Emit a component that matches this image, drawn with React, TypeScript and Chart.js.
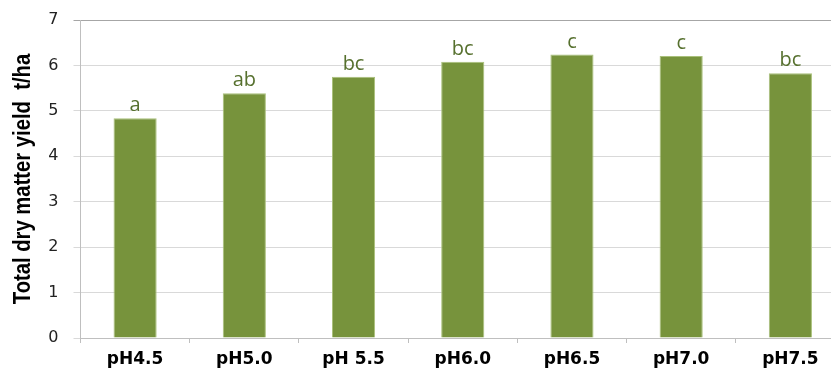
import React, { useEffect, useRef } from "react";
import { Chart, registerables } from "chart.js";

Chart.register(...registerables);

const categories = ["pH4.5", "pH5.0", "pH 5.5", "pH6.0", "pH6.5", "pH7.0", "pH7.5"];
const yieldValues = [4.84, 5.39, 5.75, 6.08, 6.24, 6.21, 5.83];
const letters = ["a", "ab", "bc", "bc", "c", "c", "bc"];
const yTicks = [0, 1, 2, 3, 4, 5, 6, 7];
const yTitle = "Total dry matter yield  t/ha";

const letterPlugin = {
  id: "letterLabels",
  afterDatasetsDraw(chart: any) {
    const ctx = chart.ctx;
    const meta = chart.getDatasetMeta(0);
    ctx.save();
    ctx.fillStyle = "#56702E";
    ctx.font = "20px 'Open Sans', 'DejaVu Sans', sans-serif";
    ctx.textAlign = "center";
    ctx.textBaseline = "alphabetic";
    meta.data.forEach((bar: any, i: number) => {
      ctx.fillText(letters[i], bar.x, bar.y - 7);
    });
    ctx.restore();
  },
};

const titlePlugin = {
  id: "condensedTitle",
  afterDraw(chart: any) {
    const ctx = chart.ctx;
    const area = chart.chartArea;
    ctx.save();
    ctx.translate(24, (area.top + area.bottom) / 2);
    ctx.rotate(-Math.PI / 2);
    ctx.scale(0.88, 1);
    ctx.fillStyle = "#000";
    ctx.font = "bold 23px 'Liberation Sans', Arial, sans-serif";
    ctx.textAlign = "center";
    ctx.textBaseline = "middle";
    ctx.fillText(yTitle, 0, 0);
    ctx.restore();
  },
};

export default function App() {
  const ref = useRef<HTMLCanvasElement | null>(null);
  useEffect(() => {
    if (!ref.current) return;
    const chart = new Chart(ref.current, {
      type: "bar",
      data: {
        labels: categories,
        datasets: [
          {
            data: yieldValues,
            backgroundColor: "#77933C",
            borderColor: "#A9C07A",
            borderWidth: 1,
            categoryPercentage: 1,
            barPercentage: 0.395,
          },
        ],
      },
      options: {
        responsive: false,
        animation: false,
        events: [],
        layout: { padding: { left: 0, right: 0, top: 20, bottom: 0 } },
        plugins: { legend: { display: false }, tooltip: { enabled: false } },
        scales: {
          x: {
            afterFit: (s: any) => {
              s.height = 31;
            },
            grid: {
              drawOnChartArea: false,
              drawTicks: true,
              tickLength: 5,
              color: "#BFBFBF",
            },
            border: { color: "#BFBFBF" },
            ticks: {
              color: "#000",
              padding: 6,
              font: { family: "'DejaVu Sans', Verdana, sans-serif", size: 17, weight: "bold" },
            },
          },
          y: {
            min: 0,
            max: 7,
            afterFit: (s: any) => {
              s.width = 80.5;
              s.paddingTop = 0;
              s.paddingBottom = 0;
            },
            afterBuildTicks: (s: any) => {
              s.ticks = yTicks.map((v) => ({ value: v }));
            },
            grid: {
              color: (c: any) => (c.tick && c.tick.value === 7 ? "#A6A6A6" : "#D9D9D9"),
              tickLength: 7,
              drawTicks: true,
            },
            border: { color: "#BFBFBF" },
            ticks: {
              color: "#222",
              padding: 15,
              font: { family: "'DejaVu Sans', Verdana, sans-serif", size: 16 },
            },
          },
        },
      },
      plugins: [letterPlugin, titlePlugin],
    });
    return () => chart.destroy();
  }, []);
  return (
    <div
      style={{
        position: "fixed",
        left: 0,
        top: 0,
        width: 831,
        height: 369,
        overflow: "hidden",
        background: "#fff",
      }}
    >
      <canvas ref={ref} width={845} height={369} style={{ display: "block" }} />
    </div>
  );
}
